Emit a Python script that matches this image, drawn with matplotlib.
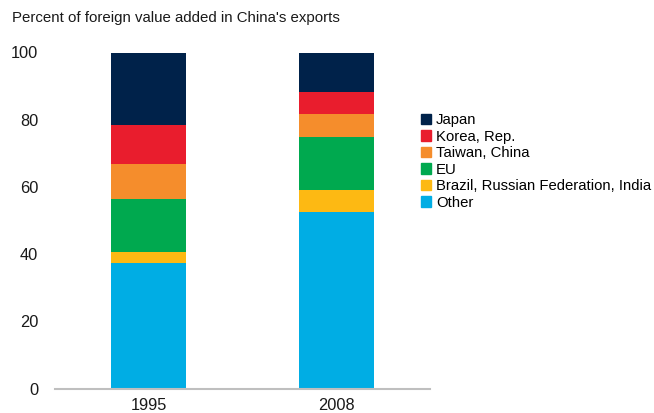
import numpy as np
import matplotlib.pyplot as plt
from matplotlib.patches import Patch

plt.rcParams['font.family'] = ['Liberation Sans', 'DejaVu Sans']

# --- datos ---
anios = ['1995', '2008']
categorias = ['Other', 'Brazil, Russian Federation, India', 'EU',
              'Taiwan, China', 'Korea, Rep.', 'Japan']
# porcentajes por categoria (1995, 2008)
other = [37.5, 52.6]
bri = [3.1, 6.5]
eu = [15.9, 15.9]
taiwan = [10.3, 6.6]
korea = [11.5, 6.6]
japan = [21.7, 11.8]
colores = ['#00ADE4', '#FDB913', '#00A94F', '#F58D2C', '#E91D2D', '#00224A']

series = [other, bri, eu, taiwan, korea, japan]

fig = plt.figure(figsize=(6.54, 4.13), dpi=100)
ax = fig.add_axes([55 / 654, 24.3 / 413, 375 / 654, 336.2 / 413])

x = np.arange(len(anios))
base = np.zeros(len(anios))
for vals, col in zip(series, colores):
    ax.bar(x, vals, bottom=base, width=0.4, color=col, linewidth=0)
    base = base + np.array(vals)

ax.set_xlim(-0.5, 1.5)
ax.set_ylim(0, 100)
ax.set_yticks([0, 20, 40, 60, 80, 100])
ax.set_xticks(x)
ax.set_xticklabels(anios)
ax.tick_params(axis='both', length=0, labelsize=11.8, colors='#1a1a1a')
ax.tick_params(axis='y', pad=12)
ax.tick_params(axis='x', pad=7)
for s in ['top', 'right', 'left']:
    ax.spines[s].set_visible(False)
ax.spines['bottom'].set_color('#BFBFBF')
ax.spines['bottom'].set_linewidth(1.5)

fig.text(12 / 654, 1 - 18 / 413, "Percent of foreign value added in China's exports",
         fontsize=10.8, va='center', ha='left', color='#1a1a1a')

handles = [Patch(color=c, label=l) for c, l in zip(colores[::-1], categorias[::-1])]
fig.legend(handles=handles, loc='upper left', bbox_to_anchor=(421 / 654, 1 - 113 / 413),
           frameon=False, fontsize=10.7, handlelength=0.7, handleheight=0.7,
           handletextpad=0.3, labelspacing=0.17, borderpad=0, borderaxespad=0)

fig.savefig('out.png', dpi=100)
